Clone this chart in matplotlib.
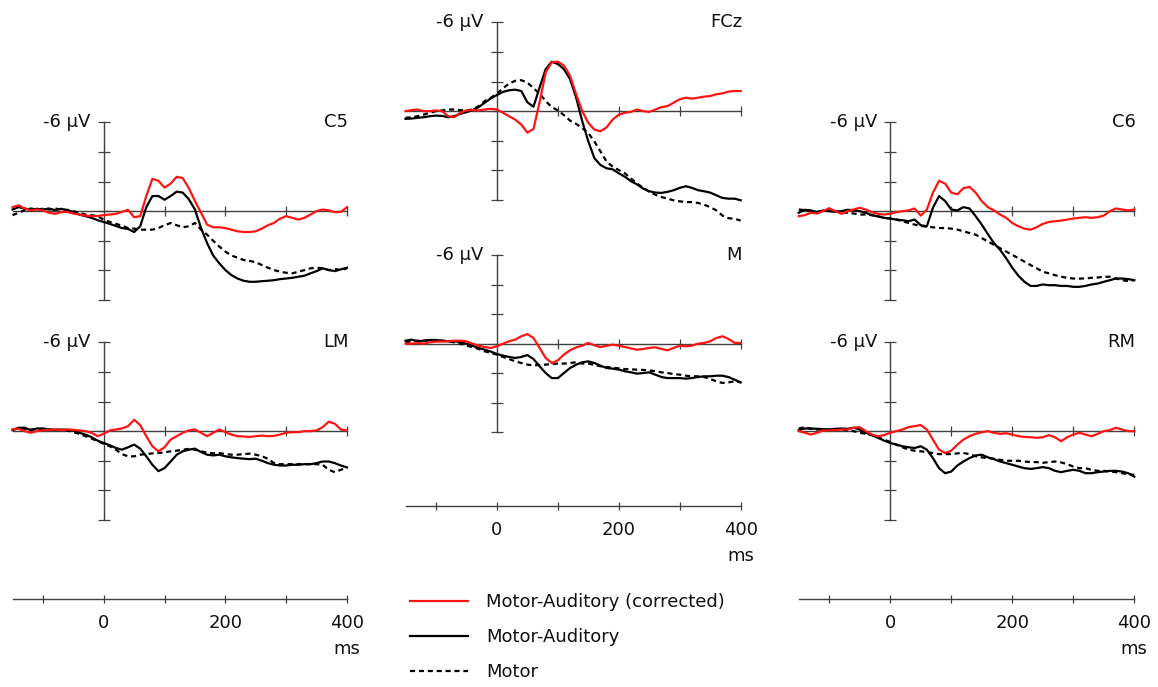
import numpy as np
import matplotlib
matplotlib.use("Agg")
import matplotlib.pyplot as plt

# time axis (ms), sampled every 10 ms
t = np.arange(-150, 401, 10)

# amplitudes in microvolts (negative is drawn upwards)
c5_corr = [-0.27, -0.39, -0.18, -0.05, -0.11, -0.05, 0.11, 0.18, 0.07, 0.05, 0.16, 0.23, 0.3, 0.34, 0.32,
           0.27, 0.23, 0.18, 0.05, -0.09, 0.41, 0.34, -1.02, -2.18, -2.05, -1.59, -1.86, -2.32, -2.23, -1.55,
           -0.68, 0.11, 0.91, 1.09, 1.09, 1.14, 1.25, 1.36, 1.41, 1.41, 1.36, 1.18, 0.95, 0.8, 0.5,
           0.34, 0.45, 0.57, 0.45, 0.23, 0.0, -0.11, -0.05, 0.07, 0.05, -0.27]
c5_ma = [-0.11, -0.27, -0.18, -0.09, -0.16, -0.11, -0.18, -0.07, -0.16, -0.05, 0.05, 0.23, 0.34, 0.45, 0.61,
         0.73, 0.86, 1.0, 1.14, 1.2, 1.41, 1.02, -0.27, -1.02, -1.02, -0.77, -1.02, -1.32, -1.25, -0.8,
         -0.11, 1.14, 2.16, 3.0, 3.52, 3.98, 4.32, 4.55, 4.7, 4.77, 4.77, 4.73, 4.7, 4.66, 4.59,
         4.55, 4.5, 4.43, 4.36, 4.2, 4.05, 3.86, 3.98, 4.05, 3.93, 3.82]
c5_motor = [0.27, 0.11, -0.07, -0.18, -0.11, -0.16, -0.11, -0.18, -0.11, -0.09, 0.0, 0.11, 0.23, 0.27, 0.34,
            0.57, 0.73, 0.86, 0.98, 1.14, 1.18, 1.25, 1.25, 1.25, 1.14, 0.95, 0.8, 0.95, 1.09, 1.02,
            0.8, 1.25, 1.59, 2.0, 2.39, 2.73, 3.0, 3.14, 3.3, 3.36, 3.45, 3.64, 3.82, 3.98, 4.09,
            4.16, 4.2, 4.09, 3.98, 3.86, 3.82, 3.86, 3.98, 3.91, 3.98, 3.86]

lm_corr = [-0.11, -0.16, 0.0, 0.11, 0.0, -0.05, -0.09, -0.11, -0.07, -0.11, -0.09, -0.05, 0.0, 0.11, 0.34,
           0.18, -0.05, -0.11, -0.18, -0.34, -0.77, -0.41, 0.34, 1.02, 1.36, 1.09, 0.57, 0.34, 0.11, -0.05,
           -0.11, 0.11, 0.34, 0.11, -0.11, 0.07, 0.23, 0.34, 0.36, 0.39, 0.34, 0.3, 0.34, 0.32, 0.23,
           0.11, 0.07, 0.07, 0.0, 0.0, -0.05, -0.27, -0.64, -0.5, -0.11, -0.05]
lm_ma = [-0.07, -0.23, -0.23, -0.07, -0.18, -0.18, -0.11, -0.09, -0.11, -0.09, -0.05, 0.11, 0.23, 0.41, 0.64,
         0.8, 0.95, 1.14, 1.25, 1.09, 0.91, 1.18, 1.7, 2.27, 2.7, 2.5, 2.05, 1.59, 1.36, 1.25,
         1.18, 1.41, 1.59, 1.64, 1.59, 1.7, 1.77, 1.82, 1.86, 1.89, 1.86, 2.0, 2.16, 2.27, 2.32,
         2.32, 2.27, 2.27, 2.23, 2.23, 2.16, 2.05, 2.05, 2.16, 2.32, 2.45]
lm_motor = [-0.11, -0.18, -0.16, -0.11, -0.11, -0.16, -0.11, -0.09, -0.07, -0.05, 0.07, 0.18, 0.34, 0.5, 0.68,
            0.86, 1.02, 1.25, 1.55, 1.7, 1.7, 1.59, 1.55, 1.5, 1.48, 1.43, 1.36, 1.32, 1.25, 1.2,
            1.25, 1.36, 1.45, 1.5, 1.48, 1.55, 1.59, 1.59, 1.55, 1.52, 1.59, 1.7, 1.86, 2.16, 2.23,
            2.23, 2.23, 2.23, 2.23, 2.23, 2.23, 2.27, 2.61, 2.77, 2.61, 2.45]

fcz_corr = [0.0, -0.07, -0.11, 0.0, 0.0, -0.05, 0.0, 0.34, 0.41, 0.11, -0.05, -0.07, -0.05, -0.11, -0.16,
            -0.11, 0.11, 0.34, 0.57, 0.91, 1.45, 1.2, -0.6, -2.61, -3.3, -3.34, -3.07, -2.39, -1.14, 0.0,
            0.8, 1.25, 1.36, 1.09, 0.57, 0.23, 0.11, 0.05, -0.11, 0.0, 0.05, -0.11, -0.27, -0.34, -0.57,
            -0.8, -0.91, -0.84, -0.91, -0.98, -1.02, -1.14, -1.2, -1.32, -1.36, -1.36]
fcz_ma = [0.52, 0.5, 0.45, 0.41, 0.34, 0.3, 0.32, 0.41, 0.34, 0.18, 0.07, -0.07, -0.27, -0.57, -0.86,
          -1.09, -1.3, -1.41, -1.45, -1.36, -0.6, -0.3, -1.59, -2.84, -3.34, -3.18, -2.84, -2.16, -0.91, 0.68,
          2.05, 3.18, 3.64, 3.86, 3.93, 4.2, 4.43, 4.73, 4.95, 5.23, 5.41, 5.5, 5.52, 5.45, 5.34,
          5.18, 5.07, 5.18, 5.34, 5.41, 5.5, 5.68, 5.86, 5.91, 5.91, 6.02]
fcz_motor = [0.45, 0.41, 0.34, 0.23, 0.11, 0.0, -0.05, -0.11, -0.11, -0.07, -0.05, -0.11, -0.34, -0.68, -0.91,
             -1.18, -1.55, -1.86, -2.05, -2.09, -1.93, -1.55, -1.18, -0.68, -0.27, -0.05, 0.27, 0.64, 0.86, 1.14,
             1.48, 2.05, 2.73, 3.41, 3.75, 3.98, 4.2, 4.55, 4.89, 5.18, 5.45, 5.64, 5.8, 5.91, 6.02,
             6.09, 6.14, 6.14, 6.2, 6.32, 6.48, 6.7, 7.05, 7.23, 7.27, 7.39]

m_corr = [0.0, 0.0, -0.05, 0.0, -0.09, -0.14, -0.14, -0.16, -0.2, -0.2, -0.16, 0.0, 0.14, 0.23, 0.29,
          0.18, 0.0, -0.16, -0.27, -0.5, -0.65, -0.38, 0.29, 0.97, 1.31, 1.13, 0.74, 0.45, 0.25, 0.14,
          -0.05, 0.11, 0.23, 0.14, 0.07, 0.14, 0.23, 0.32, 0.41, 0.36, 0.29, 0.25, 0.36, 0.45, 0.29,
          0.14, 0.18, 0.14, 0.0, -0.05, -0.16, -0.38, -0.5, -0.32, -0.05, -0.05]
m_ma = [-0.2, -0.27, -0.16, -0.2, -0.25, -0.25, -0.2, -0.16, -0.16, -0.11, 0.0, 0.14, 0.29, 0.41, 0.54,
        0.7, 0.81, 0.9, 0.97, 0.9, 0.77, 1.04, 1.53, 1.99, 2.33, 2.33, 1.99, 1.65, 1.42, 1.26,
        1.2, 1.31, 1.49, 1.65, 1.69, 1.76, 1.87, 1.94, 2.03, 1.99, 1.94, 2.1, 2.26, 2.33, 2.33,
        2.33, 2.37, 2.33, 2.26, 2.21, 2.21, 2.17, 2.17, 2.26, 2.44, 2.62]
m_motor = [-0.09, -0.16, -0.2, -0.2, -0.2, -0.23, -0.2, -0.16, -0.09, 0.0, 0.14, 0.23, 0.36, 0.52, 0.63,
           0.74, 0.9, 1.04, 1.2, 1.31, 1.42, 1.47, 1.44, 1.42, 1.38, 1.35, 1.35, 1.31, 1.26, 1.35,
           1.35, 1.44, 1.53, 1.58, 1.63, 1.67, 1.72, 1.74, 1.76, 1.78, 1.81, 1.87, 1.94, 1.99, 2.06,
           2.1, 2.17, 2.21, 2.21, 2.26, 2.39, 2.55, 2.66, 2.62, 2.55, 2.62]

c6_corr = [0.34, 0.27, 0.11, 0.16, 0.0, -0.2, 0.0, 0.18, 0.0, -0.11, -0.23, -0.11, 0.07, 0.18, 0.23,
           0.18, 0.07, 0.0, -0.05, -0.18, 0.3, -0.1, -1.25, -2.05, -1.86, -1.25, -1.14, -1.55, -1.64, -1.25,
           -0.68, -0.27, -0.05, 0.23, 0.45, 0.8, 1.02, 1.18, 1.25, 1.09, 0.86, 0.73, 0.68, 0.64, 0.57,
           0.5, 0.45, 0.41, 0.45, 0.41, 0.3, 0.0, -0.18, -0.11, -0.05, -0.11]
c6_ma = [0.11, -0.09, -0.05, 0.07, -0.05, 0.0, 0.05, 0.0, -0.09, -0.07, 0.0, 0.11, 0.27, 0.36, 0.45,
         0.5, 0.57, 0.61, 0.68, 0.57, 0.95, 1.02, -0.23, -1.02, -0.68, -0.11, -0.05, -0.27, -0.18, 0.34,
         0.91, 1.55, 2.16, 2.61, 3.18, 3.82, 4.36, 4.77, 5.05, 5.05, 4.95, 5.0, 5.0, 5.05, 5.05,
         5.11, 5.11, 5.05, 4.95, 4.89, 4.77, 4.66, 4.55, 4.55, 4.59, 4.66]
c6_motor = [-0.11, -0.07, 0.0, 0.05, 0.0, -0.05, 0.0, 0.07, 0.11, 0.16, 0.23, 0.23, 0.27, 0.34, 0.45,
            0.5, 0.57, 0.68, 0.8, 0.91, 1.0, 1.05, 1.09, 1.14, 1.14, 1.18, 1.25, 1.36, 1.48, 1.59,
            1.82, 2.05, 2.27, 2.5, 2.73, 2.95, 3.18, 3.41, 3.64, 3.86, 4.09, 4.2, 4.32, 4.43, 4.5,
            4.55, 4.55, 4.55, 4.5, 4.48, 4.43, 4.43, 4.55, 4.66, 4.73, 4.66]

rm_corr = [0.0, 0.11, 0.23, 0.11, -0.05, -0.05, -0.07, -0.11, -0.11, -0.23, -0.27, 0.0, 0.23, 0.34, 0.27,
           0.11, 0.0, -0.11, -0.27, -0.34, -0.41, -0.11, 0.57, 1.25, 1.48, 1.32, 0.91, 0.57, 0.34, 0.18,
           0.07, 0.0, 0.11, 0.18, 0.14, 0.23, 0.34, 0.39, 0.41, 0.45, 0.41, 0.27, 0.41, 0.68, 0.41,
           0.23, 0.11, 0.23, 0.34, 0.18, 0.0, -0.07, -0.23, -0.11, 0.0, 0.0]
rm_ma = [-0.07, -0.18, -0.18, -0.16, -0.14, -0.11, -0.16, -0.18, -0.16, -0.23, -0.11, 0.11, 0.27, 0.45, 0.64,
         0.8, 0.91, 1.02, 1.09, 1.14, 1.02, 1.25, 1.82, 2.5, 2.84, 2.73, 2.32, 2.05, 1.82, 1.64,
         1.59, 1.77, 1.89, 2.05, 2.16, 2.27, 2.39, 2.5, 2.55, 2.5, 2.43, 2.5, 2.68, 2.77, 2.68,
         2.61, 2.68, 2.84, 2.84, 2.77, 2.73, 2.68, 2.68, 2.73, 2.84, 3.07]
rm_motor = [-0.18, -0.27, -0.16, -0.11, -0.11, -0.11, -0.11, -0.11, -0.05, 0.0, 0.11, 0.18, 0.27, 0.41, 0.57,
            0.73, 0.91, 1.09, 1.25, 1.32, 1.36, 1.41, 1.48, 1.55, 1.55, 1.55, 1.5, 1.48, 1.55, 1.7,
            1.77, 1.82, 1.86, 1.93, 2.0, 2.0, 2.0, 2.05, 2.09, 2.09, 2.14, 2.09, 2.05, 2.11, 2.23,
            2.39, 2.5, 2.5, 2.61, 2.68, 2.68, 2.73, 2.77, 2.84, 2.91, 2.95]

labels = ["Motor-Auditory (corrected)", "Motor-Auditory", "Motor"]

W, H = 1158, 687
RED = "#ff1414"
AXC = "#404040"
TXT = "#111111"
FS = 13

plt.rcParams["font.family"] = "DejaVu Sans"
plt.rcParams["lines.solid_joinstyle"] = "round"
plt.rcParams["lines.dash_joinstyle"] = "round"
fig = plt.figure(figsize=(W / 100, H / 100), dpi=100)


def px_axes(x0, y0, x1, y1):
    return fig.add_axes([x0 / W, 1 - y1 / H, (x1 - x0) / W, (y1 - y0) / H])


def erp_panel(box, name, corr, ma, motor):
    ax = px_axes(*box)
    ax.set_xlim(-150, 400)
    ax.set_ylim(6, -6)
    ax.patch.set_visible(False)
    for s in ["top", "right"]:
        ax.spines[s].set_visible(False)
    ax.spines["left"].set_position(("data", 0))
    ax.spines["bottom"].set_position(("data", 0))
    for s in ["left", "bottom"]:
        ax.spines[s].set_color(AXC)
        ax.spines[s].set_linewidth(1.0)
        ax.spines[s].set_zorder(1)
    ax.set_yticks([-6, -4, -2, 0, 2, 4, 6])
    ax.set_xticks([100, 200, 300, 400])
    ax.set_xticks([400], minor=True)
    ax.tick_params(axis="y", direction="inout", length=9, width=0.9, color=AXC, labelleft=False)
    ax.tick_params(axis="x", which="major", direction="inout", length=6.5, width=0.9, color=AXC,
                   labelbottom=False)
    ax.tick_params(axis="x", which="minor", direction="inout", length=10.5, width=0.9, color=AXC)

    ax.plot(t, motor, color="black", lw=1.6, dashes=(2.3, 1.7), clip_on=False, zorder=3, label=labels[2])
    ax.plot(t, ma, color="black", lw=1.6, clip_on=False, zorder=4, label=labels[1])
    ax.plot(t, corr, color=RED, lw=1.6, clip_on=False, zorder=5, label=labels[0])

    ax.annotate("-6 µV", xy=(0, -6), xytext=(-9.5, 0), textcoords="offset points",
                ha="right", va="center", fontsize=FS, color=TXT)
    ax.annotate(name, xy=(400, -6), xytext=(1, 0), textcoords="offset points",
                ha="right", va="center", fontsize=FS, color=TXT)
    return ax


def time_axis(x0, y, x1):
    ax = px_axes(x0, y - 1, x1, y)
    ax.set_xlim(-150, 400)
    ax.set_ylim(0, 1)
    ax.patch.set_visible(False)
    for s in ["top", "right", "left"]:
        ax.spines[s].set_visible(False)
    ax.spines["bottom"].set_color(AXC)
    ax.spines["bottom"].set_linewidth(1.0)
    ax.set_yticks([])
    ax.set_xticks([-100, 0, 100, 200, 300, 400], labels=["", "0", "", "200", "", "400"])
    ax.set_xticks([400], minor=True)
    ax.tick_params(axis="x", which="major", direction="inout", length=6, width=0.9, color=AXC,
                   pad=7.8, labelsize=FS, labelcolor=TXT)
    ax.tick_params(axis="x", which="minor", direction="inout", length=11, width=0.9, color=AXC)
    ax.annotate("ms", xy=(400, 0), xycoords=("data", "axes fraction"), xytext=(0, -36),
                textcoords="offset points", ha="center", va="center", fontsize=FS, color=TXT)


LX = (12.5, 347.0)
CX = (405.5, 740.7)
RX = (798.7, 1134.3)

ax_c5 = erp_panel((LX[0], 122.3, LX[1], 300), "C5", c5_corr, c5_ma, c5_motor)
erp_panel((LX[0], 342.3, LX[1], 520), "LM", lm_corr, lm_ma, lm_motor)
erp_panel((CX[0], 22.3, CX[1], 200), "FCz", fcz_corr, fcz_ma, fcz_motor)
erp_panel((CX[0], 255, CX[1], 432.3), "M", m_corr, m_ma, m_motor)
erp_panel((RX[0], 122.3, RX[1], 300), "C6", c6_corr, c6_ma, c6_motor)
erp_panel((RX[0], 342.3, RX[1], 520), "RM", rm_corr, rm_ma, rm_motor)

time_axis(LX[0], 599, LX[1])
time_axis(CX[0], 506, CX[1])
time_axis(RX[0], 599, RX[1])

handles, labs = ax_c5.get_legend_handles_labels()
order = [2, 1, 0]
fig.legend([handles[i] for i in order], [labs[i] for i in order], loc="center left",
           bbox_to_anchor=(410 / W, 1 - 637 / H), frameon=False, fontsize=FS,
           handlelength=3.2, handletextpad=1.0, labelspacing=0.95, borderpad=0, borderaxespad=0,
           labelcolor=TXT)

fig.savefig("out.png", dpi=100)
